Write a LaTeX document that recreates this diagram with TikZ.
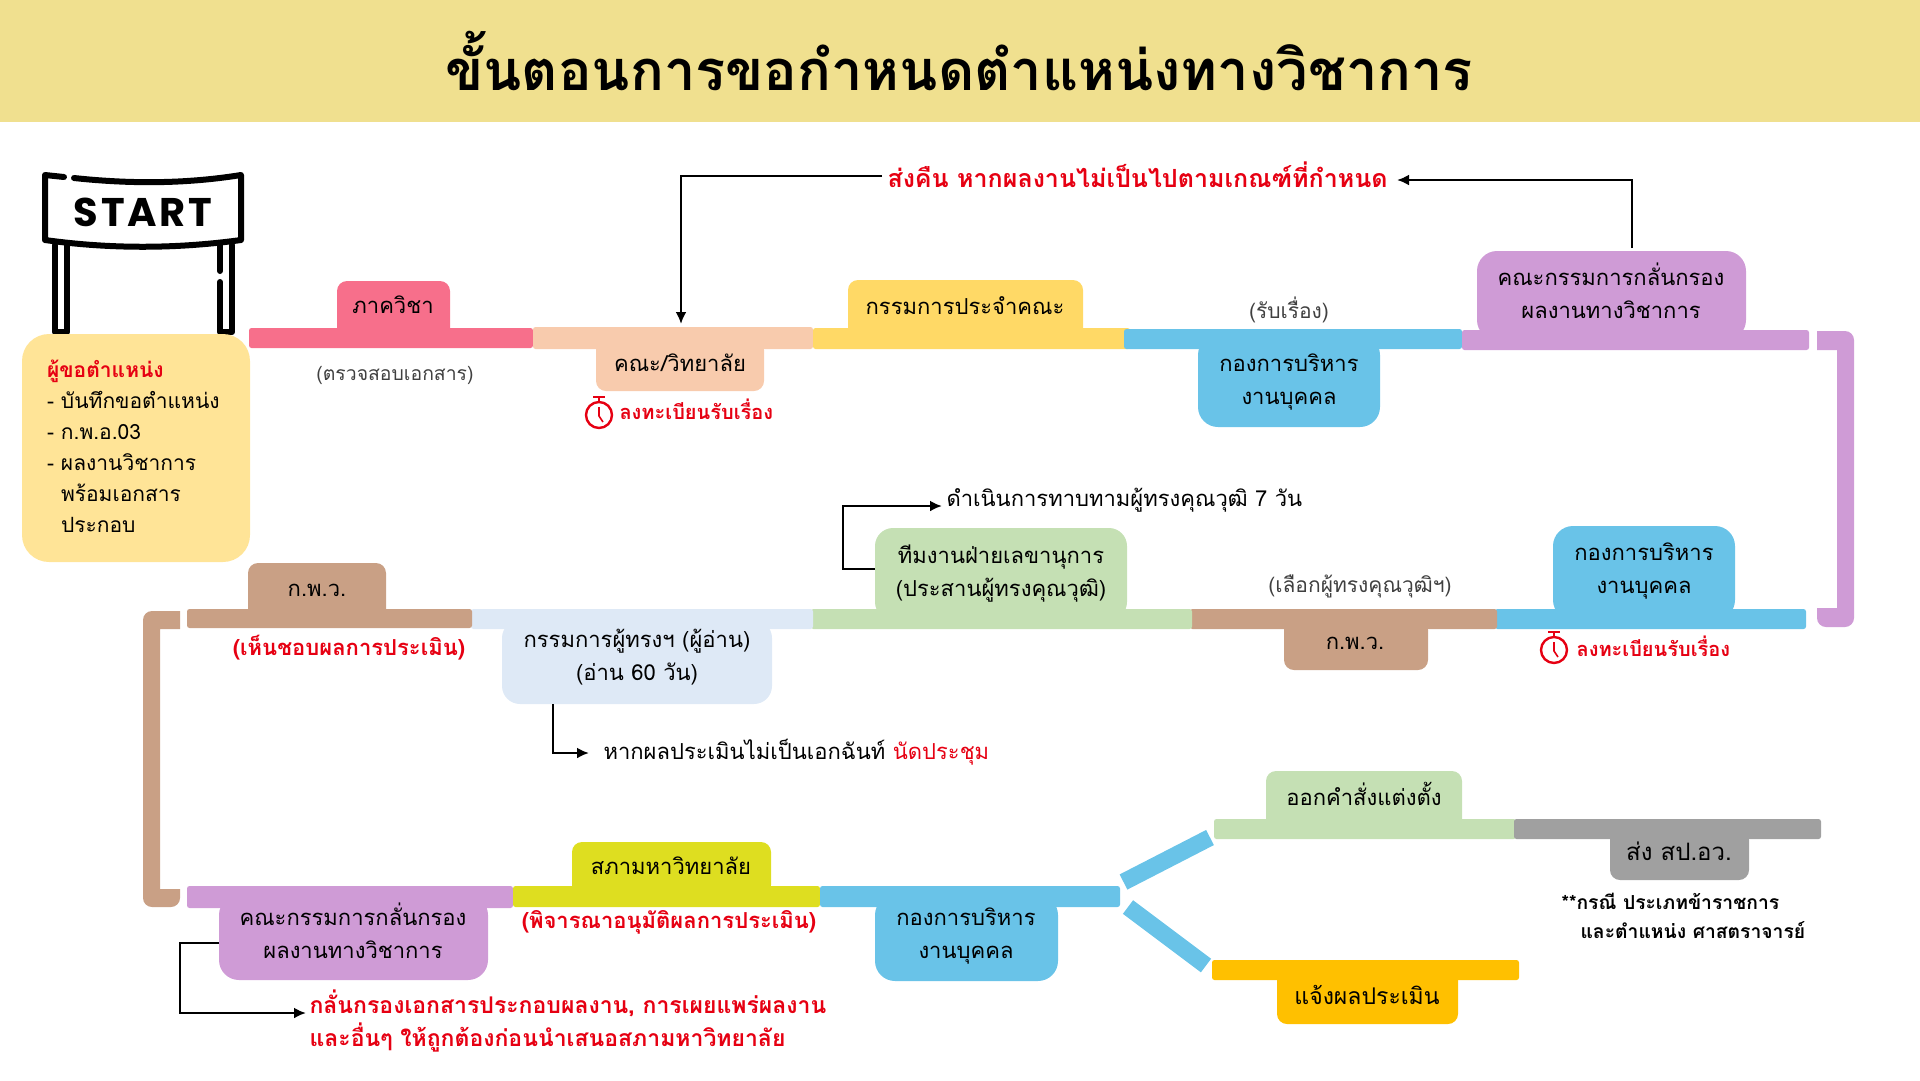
\documentclass[tikz,border=0pt]{standalone}
\usepackage{fontspec}
\setmainfont[Script=Thai]{Loma}
\newfontfamily\startfont[LetterSpace=7]{Poppins}
\usepackage{xcolor}
\usetikzlibrary{arrows.meta}
\definecolor{headc}{HTML}{F0E08F}
\definecolor{creamc}{HTML}{FFE497}
\definecolor{pinkc}{HTML}{F76F8B}
\definecolor{peachc}{HTML}{F8CBAD}
\definecolor{goldc}{HTML}{FFD966}
\definecolor{bluec}{HTML}{69C3E8}
\definecolor{purplec}{HTML}{CF9BD6}
\definecolor{brownc}{HTML}{C9A085}
\definecolor{paleblue}{HTML}{DEE9F6}
\definecolor{greenc}{HTML}{C5E0B4}
\definecolor{olivec}{HTML}{DEDE20}
\definecolor{orangec}{HTML}{FFC000}
\definecolor{grayc}{HTML}{A0A0A0}
\definecolor{redc}{HTML}{E60012}
\definecolor{notec}{HTML}{404040}
\begin{document}
\begin{tikzpicture}[
    x=1pt, y=-1pt,
    place/.style args={#1/#2/#3/#4}{minimum width={(#3-#1)*1pt}, minimum height={(#4-#2)*1pt}, at={({(#1+#3)/2},{(#2+#4)/2})}},
    bar/.style={rectangle, rounded corners=2.5pt, inner sep=0pt, outer sep=0pt},
    tab/.style={rectangle, rounded corners=10pt, inner sep=0pt, outer sep=0pt},
    bigtab/.style={rectangle, rounded corners=20pt, inner sep=0pt, outer sep=0pt},
    label_box/.style={font=\fontsize{22}{33}\selectfont, align=center, text=black},
    label_note/.style={font=\fontsize{19.4}{30}\selectfont, align=center, text=notec},
    label_red/.style={font=\fontsize{22}{33}\selectfont, align=left, text=redc},
    flow/.style={-{Latex[length=12pt,width=11pt]}, line width=2.5pt, black},
    sign/.style={line width=6pt, line cap=round, line join=round, black},
    stopwatch/.pic={
        \draw[redc, line width=2.4pt] (0,0) circle (13);
        \draw[redc, line width=2.4pt] (0,-13) -- (0,-17);
        \draw[redc, line width=2.6pt] (-6,-18) -- (6,-18);
        \draw[redc, line width=1.6pt] (0,-8) -- (0,1) -- (4,7);
    }
]
    \useasboundingbox (0,0) rectangle (1920,1080);

    % Header
    \node[bar, rounded corners=0pt, place=0/0/1920/122, fill=headc] (header) {};
    \node[font=\fontsize{56}{66}\selectfont\bfseries] (title) at (959,61) {ขั้นตอนการขอกำหนดตำแหน่งทางวิชาการ};

    % Start sign
    \draw[sign] (64,177) -- (45,175) -- (45,240) .. controls (110,249) and (175,249) .. (241,240) -- (241,175) .. controls (185,184) and (130,184) .. (74,178);
    \draw[sign] (55,245) -- (55,332) -- (67,332) -- (67,245);
    \draw[sign] (220,245) -- (220,271);
    \draw[sign] (220,282) -- (220,332) -- (232,332) -- (232,245);
    \node[font=\startfont\fontsize{40}{40}\selectfont\bfseries] (start) at (143,212) {START};

    % Applicant
    \node[bar, rounded corners=27pt, place=22/334/250/562, fill=creamc] (applicantbox) {};
    \node[font=\fontsize{21}{31}\selectfont, align=left, text width=178pt, inner sep=0pt] (applicant) at (136,446) {\textcolor{redc}{\textbf{ผู้ขอตำแหน่ง}}\\- บันทึกขอตำแหน่ง\\- ก.พ.อ.03\\- ผลงานวิชาการ\\\hspace*{14pt}พร้อมเอกสาร\\\hspace*{14pt}ประกอบ};

    % First row
    \node[tab, place=337/281/450/340, fill=pinkc] (deptbox) {};
    \node[bar, place=249/328/533/348, fill=pinkc] (deptbar) {};
    \node[label_box] (dept) at (393,305) {ภาควิชา};
    \node[label_note] (deptnote) at (395,375) {(ตรวจสอบเอกสาร)};

    \node[tab, place=596/340/764/391, fill=peachc] (facultybox) {};
    \node[bar, place=533/327/813/349, fill=peachc] (facultybar) {};
    \node[label_box] (faculty) at (680,363) {คณะ/วิทยาลัย};
    \pic at (599,415) {stopwatch};
    \node[label_red, font=\fontsize{20}{24}\selectfont\bfseries, anchor=west] (facultynote) at (616,409) {ลงทะเบียนรับเรื่อง};

    \node[tab, place=848/280/1083/340, fill=goldc] (boardbox) {};
    \node[bar, place=813/328/1130/349, fill=goldc] (boardbar) {};
    \node[label_box] (board) at (965,306) {กรรมการประจำคณะ};

    \node[bigtab, place=1198/335/1380/427, fill=bluec] (hrboxa) {};
    \node[bar, place=1124/329/1462/349, fill=bluec] (hrbara) {};
    \node[label_box] (hra) at (1289,382) {กองการบริหาร\\งานบุคคล};
    \node[label_note, font=\fontsize{21}{30}\selectfont] (hranote) at (1289,310) {(รับเรื่อง)};

    \node[bigtab, place=1477/251/1746/340, fill=purplec] (reviewboxa) {};
    \node[bar, place=1462/330/1809/350, fill=purplec] (reviewbara) {};
    \node[label_box] (reviewa) at (1611,291) {คณะกรรมการกลั่นกรอง\\ผลงานทางวิชาการ};

    % Return to faculty
    \coordinate (returnstart) at (882,176);
    \coordinate (returnend) at (681,324);
    \coordinate (reviewout) at (1632,248);
    \coordinate (returnin) at (1397,180);
    \node[label_red, font=\fontsize{25}{30}\selectfont\bfseries, anchor=west] (returnnote) at (884,175) {ส่งคืน หากผลงานไม่เป็นไปตามเกณฑ์ที่กำหนด};
    \draw[flow] (returnstart) -| (returnend);
    \draw[flow] (reviewout) |- (returnin);

    % Purple bracket
    \path[fill=purplec, rounded corners=9pt] (1817,331) -- (1854,331) -- (1854,627) -- (1817,627) [sharp corners] -- (1817,608) -- (1837,608) -- (1837,350) -- (1817,350) -- cycle;

    % Second row
    \node[bigtab, place=1553/526/1735/620, fill=bluec] (hrboxb) {};
    \node[bar, place=1495/609/1806/629, fill=bluec] (hrbarb) {};
    \node[label_box] (hrb) at (1644,571) {กองการบริหาร\\งานบุคคล};
    \pic at (1554,650) {stopwatch};
    \node[label_red, font=\fontsize{20}{24}\selectfont\bfseries, anchor=west] (hrbnote) at (1573,646) {ลงทะเบียนรับเรื่อง};

    \node[tab, place=1284/620/1428/670, fill=brownc] (ocscboxb) {};
    \node[bar, place=1190/609/1497/629, fill=brownc] (ocscbarb) {};
    \node[label_box] (ocscb) at (1355,643) {ก.พ.ว.};
    \node[label_note, font=\fontsize{21}{30}\selectfont] (ocscbnote) at (1360,586) {(เลือกผู้ทรงคุณวุฒิฯ)};

    \node[tab, rounded corners=18pt, place=875/528/1127/620, fill=greenc] (secretarybox) {};
    \node[bar, place=811/609/1192/629, fill=greenc] (secretarybar) {};
    \node[label_box] (secretary) at (1001,574) {ทีมงานฝ่ายเลขานุการ\\(ประสานผู้ทรงคุณวุฒิ)};
    \coordinate (secretaryout) at (875,569);
    \coordinate (invitein) at (942,506);
    \node[label_box, anchor=west] (invitenote) at (943,500) {ดำเนินการทาบทามผู้ทรงคุณวุฒิ 7 วัน};
    \draw[flow] (secretaryout) -- ++(-32,0) |- (invitein);

    \node[tab, rounded corners=18pt, place=502/620/772/704, fill=paleblue] (readerbox) {};
    \node[bar, place=471/609/813/629, fill=paleblue] (readerbar) {};
    \node[label_box] (reader) at (637,657) {กรรมการผู้ทรงฯ (ผู้อ่าน)\\(อ่าน 60 วัน)};
    \coordinate (readerout) at (553,704);
    \coordinate (meetin) at (589,753);
    \node[label_box, anchor=west] (meetnote) at (600,752) {หากผลประเมินไม่เป็นเอกฉันท์ \textcolor{redc}{นัดประชุม}};
    \draw[flow] (readerout) |- (meetin);

    \node[tab, place=248/563/386/620, fill=brownc] (ocscboxa) {};
    \node[bar, place=187/609/472/628, fill=brownc] (ocscbara) {};
    \node[label_box] (ocsca) at (317,590) {ก.พ.ว.};
    \node[label_red, align=center, font=\fontsize{22}{26}\selectfont\bfseries] (ocscanote) at (349,648) {(เห็นชอบผลการประเมิน)};

    % Brown bracket
    \path[fill=brownc, rounded corners=9pt] (180,611) -- (143,611) -- (143,907) -- (180,907) [sharp corners] -- (180,889) -- (160,889) -- (160,629) -- (180,629) -- cycle;

    % Third row
    \node[bigtab, place=219/895/488/980, fill=purplec] (reviewboxb) {};
    \node[bar, place=187/886/513/908, fill=purplec] (reviewbarb) {};
    \node[label_box] (reviewb) at (353,931) {คณะกรรมการกลั่นกรอง\\ผลงานทางวิชาการ};
    \coordinate (reviewbout) at (219,943);
    \coordinate (screenin) at (306,1013);
    \node[label_red, anchor=north west, font=\fontsize{23}{33}\selectfont\bfseries] (screennote) at (306,986) {กลั่นกรองเอกสารประกอบผลงาน, การเผยแพร่ผลงาน\\และอื่นๆ ให้ถูกต้องก่อนนำเสนอสภามหาวิทยาลัย};
    \draw[flow] (reviewbout) -- ++(-39,0) |- (screenin);

    \node[tab, place=572/842/771/895, fill=olivec] (councilbox) {};
    \node[bar, place=513/886/820/907, fill=olivec] (councilbar) {};
    \node[label_box] (council) at (671,866) {สภามหาวิทยาลัย};
    \node[label_red, align=center, font=\fontsize{22}{26}\selectfont\bfseries] (councilnote) at (669,922) {(พิจารณาอนุมัติผลการประเมิน)};

    \node[bigtab, place=875/895/1058/981, fill=bluec] (hrboxc) {};
    \node[bar, place=820/886/1120/907, fill=bluec] (hrbarc) {};
    \node[label_box] (hrc) at (966,936) {กองการบริหาร\\งานบุคคล};

    % Branches
    \node[tab, place=1266/771/1462/830, fill=greenc] (orderbox) {};
    \node[bar, place=1214/819/1516/839, fill=greenc] (orderbar) {};
    \node[label_box] (order) at (1364,794) {ออกคำสั่งแต่งตั้ง};

    \node[tab, place=1610/830/1749/880, fill=grayc] (sendbox) {};
    \node[bar, place=1514/819/1821/839, fill=grayc] (sendbar) {};
    \node[label_box, font=\fontsize{24}{33}\selectfont] (send) at (1679,851) {ส่ง สป.อว.};
    \node[label_box, anchor=north west, font=\fontsize{19.3}{29}\selectfont\bfseries, align=left] (sendnote) at (1558,890) {**กรณี ประเภทข้าราชการ\\\hspace*{19pt}และตำแหน่ง ศาสตราจารย์};

    \node[tab, place=1277/970/1458/1024, fill=orangec] (notifybox) {};
    \node[bar, place=1212/960/1519/980, fill=orangec] (notifybar) {};
    \node[label_box, font=\fontsize{23}{33}\selectfont] (notify) at (1367,995) {แจ้งผลประเมิน};

    \coordinate (upfrom) at ([shift={(3.5,-14.5)}]hrbarc.east);
    \coordinate (upto) at ([shift={(-4,8.5)}]orderbar.west);
    \coordinate (downfrom) at ([shift={(8,10.5)}]hrbarc.east);
    \coordinate (downto) at ([shift={(-6,-4.5)}]notifybar.west);
    \draw[bluec, line width=17pt] (upfrom) -- (upto);
    \draw[bluec, line width=17pt] (downfrom) -- (downto);
\end{tikzpicture}
\end{document}
